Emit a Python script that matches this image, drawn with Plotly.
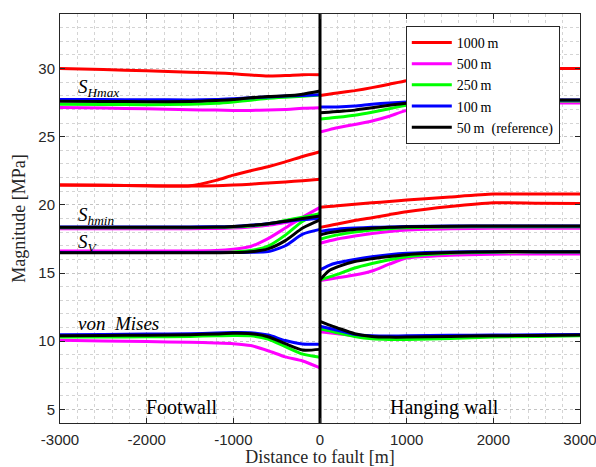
import plotly.graph_objects as go

# ---------------- data ----------------
XL = [-3000, -2500, -2000, -1500, -1200, -1000, -800, -600, -400, -200, 0]
XR = [0, 100, 200, 400, 600, 800, 1000, 1500, 2000, 2500, 3000]

# 1000 m (red)
red_shmax_L = [30.0, 29.92, 29.83, 29.72, 29.68, 29.62, 29.52, 29.45, 29.48, 29.55, 29.55]
red_a_L = [21.45, 21.43, 21.4, 21.4, 21.8, 22.18, 22.5, 22.8, 23.15, 23.55, 23.9]
red_b_L = [21.45, 21.43, 21.4, 21.38, 21.4, 21.45, 21.52, 21.6, 21.68, 21.77, 21.87]
red_shmax_R = [28.03, 28.12, 28.2, 28.38, 28.6, 28.85, 29.1, 29.6, 30.0, 30.0, 30.0]
red_a_R = [19.82, 19.88, 19.93, 20.05, 20.15, 20.25, 20.35, 20.58, 20.79, 20.79, 20.79]
red_b_R = [18.35, 18.47, 18.6, 18.85, 19.05, 19.28, 19.5, 19.88, 20.15, 20.12, 20.1]

# 500 m (magenta)
mag_shmax_L = [27.15, 27.1, 27.05, 26.98, 26.95, 26.93, 26.93, 26.95, 27.0, 27.08, 27.12]
mag_shmin_L = [18.25, 18.25, 18.25, 18.25, 18.27, 18.3, 18.38, 18.5, 18.7, 18.9, 19.1]
mag_sv_L = [16.62, 16.62, 16.62, 16.62, 16.65, 16.75, 16.95, 17.52, 18.3, 19.1, 19.82]
mag_vm_L = [10.07, 10.02, 9.97, 9.92, 9.87, 9.82, 9.68, 9.3, 8.85, 8.55, 8.05]
mag_shmax_R = [25.34, 25.5, 25.65, 25.9, 26.15, 26.5, 26.93, 27.3, 27.42, 27.47, 27.47]
mag_shmin_R = [17.19, 17.35, 17.5, 17.72, 17.9, 18.05, 18.16, 18.25, 18.28, 18.28, 18.28]
mag_sv_R = [14.45, 14.55, 14.65, 14.85, 15.15, 15.65, 16.1, 16.3, 16.38, 16.4, 16.4]
mag_vm_R = [10.7, 10.62, 10.55, 10.4, 10.3, 10.28, 10.28, 10.32, 10.38, 10.42, 10.45]

# 250 m (green)
grn_shmax_L = [27.38, 27.36, 27.35, 27.38, 27.45, 27.55, 27.68, 27.82, 27.9, 27.97, 28.05]
grn_shmin_L = [18.33, 18.33, 18.33, 18.33, 18.35, 18.38, 18.45, 18.6, 18.85, 19.1, 19.35]
grn_sv_L = [16.5, 16.5, 16.5, 16.5, 16.52, 16.55, 16.65, 16.97, 17.78, 18.8, 19.38]
grn_vm_L = [10.3, 10.3, 10.32, 10.35, 10.4, 10.42, 10.4, 10.15, 9.6, 9.05, 8.82]
grn_shmax_R = [26.3, 26.35, 26.42, 26.58, 26.8, 27.05, 27.3, 27.5, 27.6, 27.62, 27.62]
grn_shmin_R = [17.48, 17.65, 17.8, 18.0, 18.15, 18.25, 18.32, 18.38, 18.4, 18.4, 18.4]
grn_sv_R = [14.5, 14.7, 14.9, 15.37, 15.7, 15.98, 16.2, 16.45, 16.52, 16.55, 16.55]
grn_vm_R = [10.9, 10.78, 10.62, 10.35, 10.18, 10.13, 10.12, 10.2, 10.3, 10.35, 10.4]

# 100 m (blue)
blu_shmax_L = [27.72, 27.72, 27.71, 27.7, 27.72, 27.78, 27.85, 27.92, 27.98, 28.02, 28.08]
blu_shmin_L = [18.38, 18.38, 18.38, 18.38, 18.4, 18.42, 18.5, 18.62, 18.78, 18.92, 19.0]
blu_sv_L = [16.5, 16.5, 16.5, 16.5, 16.5, 16.5, 16.52, 16.57, 17.0, 17.85, 18.2]
blu_vm_L = [10.48, 10.5, 10.52, 10.55, 10.6, 10.63, 10.62, 10.45, 10.05, 9.8, 9.78]
blu_shmax_R = [27.17, 27.17, 27.18, 27.25, 27.38, 27.48, 27.55, 27.65, 27.7, 27.7, 27.7]
blu_shmin_R = [18.04, 18.15, 18.22, 18.3, 18.35, 18.38, 18.42, 18.45, 18.45, 18.45, 18.45]
blu_sv_R = [15.23, 15.55, 15.75, 16.0, 16.2, 16.35, 16.45, 16.55, 16.57, 16.57, 16.57]
blu_vm_R = [11.1, 10.95, 10.8, 10.5, 10.4, 10.38, 10.4, 10.43, 10.45, 10.47, 10.5]

# 50 m (black, reference)
blk_shmax_L = [27.6, 27.58, 27.57, 27.58, 27.65, 27.72, 27.85, 27.95, 28.0, 28.12, 28.35]
blk_shmin_L = [18.35, 18.35, 18.35, 18.35, 18.37, 18.42, 18.5, 18.62, 18.8, 19.0, 19.18]
blk_sv_L = [16.48, 16.48, 16.48, 16.48, 16.49, 16.5, 16.56, 16.77, 17.38, 18.3, 18.9]
blk_vm_L = [10.4, 10.42, 10.44, 10.48, 10.53, 10.58, 10.55, 10.33, 9.82, 9.35, 9.4]
blk_shmax_R = [26.76, 26.8, 26.85, 26.95, 27.12, 27.3, 27.45, 27.6, 27.68, 27.7, 27.7]
blk_shmin_R = [17.79, 17.95, 18.05, 18.2, 18.28, 18.35, 18.4, 18.43, 18.45, 18.45, 18.45]
blk_sv_R = [14.5, 15.15, 15.45, 15.84, 16.05, 16.22, 16.35, 16.5, 16.57, 16.57, 16.57]
blk_vm_R = [11.45, 11.2, 10.98, 10.55, 10.35, 10.3, 10.3, 10.35, 10.4, 10.42, 10.45]

series_names = ["1000\u2009m", "500\u2009m", "250\u2009m", "100\u2009m", "50\u2009m  (reference)"]
series_colors = ["#ff0000", "#ff00ff", "#00ff00", "#0000ff", "#000000"]
series_left = [
    [red_shmax_L, red_a_L, red_b_L],
    [mag_shmax_L, mag_shmin_L, mag_sv_L, mag_vm_L],
    [grn_shmax_L, grn_shmin_L, grn_sv_L, grn_vm_L],
    [blu_shmax_L, blu_shmin_L, blu_sv_L, blu_vm_L],
    [blk_shmax_L, blk_shmin_L, blk_sv_L, blk_vm_L],
]
series_right = [
    [red_shmax_R, red_a_R, red_b_R],
    [mag_shmax_R, mag_shmin_R, mag_sv_R, mag_vm_R],
    [grn_shmax_R, grn_shmin_R, grn_sv_R, grn_vm_R],
    [blu_shmax_R, blu_shmin_R, blu_sv_R, blu_vm_R],
    [blk_shmax_R, blk_shmin_R, blk_sv_R, blk_vm_R],
]

x_ticks = [-3000, -2000, -1000, 0, 1000, 2000, 3000]
x_ticktext = ["-3000", "-2000", "-1000", "0", "1000", "2000", "3000"]
y_ticks = [5, 10, 15, 20, 25, 30]
fault_x = [0, 0]
fault_y = [4, 34]

# ---------------- figure ----------------
SERIF = "Liberation Serif, Times New Roman, serif"
SANS = "Liberation Sans, Arial, sans-serif"
AX = "#262626"

fig = go.Figure()
for name, col, lefts, rights in zip(series_names, series_colors, series_left, series_right):
    xs, ys = [], []
    for seg in lefts:
        xs += XL + [None]
        ys += seg + [None]
    for seg in rights:
        xs += XR + [None]
        ys += seg + [None]
    fig.add_trace(go.Scatter(x=xs, y=ys, mode="lines", name=name,
                             line=dict(color=col, width=3, shape="spline", smoothing=0.6),
                             connectgaps=False))

fig.add_trace(go.Scatter(x=fault_x, y=fault_y, mode="lines", showlegend=False,
                         line=dict(color="#000000", width=3), hoverinfo="skip"))

ann_font = dict(family=SERIF, size=19, color="#000000")
fig.add_annotation(x=-2810, y=28.55, xanchor="left", yanchor="middle", showarrow=False,
                   text="<i>S</i><sub><i>Hmax</i></sub>", font=ann_font)
fig.add_annotation(x=-2810, y=19.2, xanchor="left", yanchor="middle", showarrow=False,
                   text="<i>S</i><sub><i>hmin</i></sub>", font=ann_font)
fig.add_annotation(x=-2810, y=17.2, xanchor="left", yanchor="middle", showarrow=False,
                   text="<i>S</i><sub><i>V</i></sub>", font=ann_font)
fig.add_annotation(x=-2810, y=11.3, xanchor="left", yanchor="middle", showarrow=False,
                   text="<i>von  Mises</i>", font=ann_font)
fig.add_annotation(x=-1587, y=5.15, xanchor="center", yanchor="middle", showarrow=False,
                   text="Footwall", font=dict(family=SERIF, size=20, color="#000000"))
fig.add_annotation(x=1432, y=5.15, xanchor="center", yanchor="middle", showarrow=False,
                   text="Hanging wall", font=dict(family=SERIF, size=20, color="#000000"))

grid_common = dict(showgrid=True, gridcolor="#c4c4c4", gridwidth=1, griddash="dot",
                   showline=True, linecolor=AX, linewidth=1, mirror="ticks",
                   ticks="inside", ticklen=5, tickcolor=AX, zeroline=False,
                   automargin=False, ticklabeloverflow="allow",
                   tickfont=dict(family=SANS, size=15, color=AX))

fig.update_xaxes(range=[-3000, 3000], tickvals=x_ticks, ticktext=x_ticktext,
                 minor=dict(dtick=200, tick0=0, showgrid=True, gridcolor="#d4d4d4",
                            griddash="dot", ticks=""),
                 title=dict(text="Distance to fault [m]", standoff=9,
                            font=dict(family=SERIF, size=18, color=AX)),
                 ticklabelstandoff=3, **grid_common)
fig.update_yaxes(range=[4, 34], tickvals=y_ticks,
                 minor=dict(dtick=1, tick0=0, showgrid=True, gridcolor="#d4d4d4",
                            griddash="dot", ticks=""),
                 title=dict(text="Magnitude [MPa]", standoff=8,
                            font=dict(family=SERIF, size=18, color=AX)),
                 ticklabelstandoff=1, **grid_common)

# plot area at x 60..580, y 14..423 of the 596x467 page
fig.update_layout(
    width=596, height=467,
    margin=dict(l=60, r=16, t=14, b=44),
    paper_bgcolor="white", plot_bgcolor="white",
    showlegend=True,
    legend=dict(x=0.665, y=0.971, xanchor="left", yanchor="top",
                bgcolor="white", bordercolor=AX, borderwidth=1,
                font=dict(family=SERIF, size=14, color="#000000"),
                tracegroupgap=0, itemwidth=40),
)

# remove the default page margin so the figure fills the window exactly
fig.write_html("out.html",
               config={"displayModeBar": False},
               post_script="document.body.style.margin='0';"
                           "document.documentElement.style.overflow='hidden';")
